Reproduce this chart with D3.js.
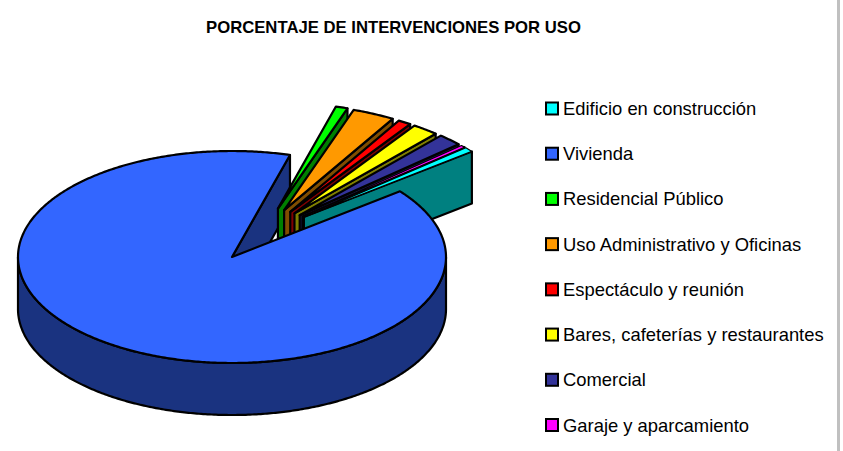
<!DOCTYPE html>
<html>
<head>
<meta charset="utf-8">
<script src="https://cdn.jsdelivr.net/npm/d3@7"></script>
<style>
  html, body { margin: 0; padding: 0; background: #fff; overflow: hidden; }
  text { font-family: "Liberation Sans", Arial, sans-serif; fill: #000; }
</style>
</head>
<body>
<svg id="chart" width="843" height="451"></svg>
<script>
const categories = ['Edificio en construcción', 'Vivienda', 'Residencial Público',
  'Uso Administrativo y Oficinas', 'Espectáculo y reunión',
  'Bares, cafeterías y restaurantes', 'Comercial', 'Garaje y aparcamiento'];
// percentages
const values = [0.7, 90, 0.9, 3.2, 1, 2, 1.85, 0.35];
const colors = ['#00ffff', '#3366ff', '#00ff00', '#ff9900', '#ff0000', '#ffff00', '#333399', '#ff00ff'];

const cx = 232, cy = 257, rx = 214, ry = 106, depth = 52, explode = 108;
const firstAngle = 49.2 * Math.PI / 180;
// exploded slices spread out less than their own bisectors would
const fanAngle = 33 * Math.PI / 180, fanSpread = 0.5;

const svg = d3.select('#chart');

svg.append('rect')
  .attr('x', 837).attr('y', 0).attr('width', 3).attr('height', 451)
  .attr('fill', '#c0c0c0');

svg.append('text')
  .attr('x', 393.5).attr('y', 33)
  .attr('text-anchor', 'middle')
  .attr('font-size', 16.7)
  .attr('font-weight', 'bold')
  .text('PORCENTAJE DE INTERVENCIONES POR USO');

const arcs = d3.pie().value(d => d).sort(null)
  .startAngle(firstAngle).endAngle(firstAngle + 2 * Math.PI)(values);

const pt = (o, t) => [o[0] + rx * Math.sin(t), o[1] - ry * Math.cos(t)];
const down = p => [p[0], p[1] + depth];
const line = d3.line();
const arcPts = (o, a, b) => {
  const n = Math.max(2, Math.ceil(Math.abs(b - a) / 0.01));
  return d3.range(n + 1).map(i => pt(o, a + (b - a) * i / n));
};
const dark = c => { const r = d3.rgb(c); return d3.rgb(r.r / 2, r.g / 2, r.b / 2).formatHex(); };

const shape = (pts, fill, w = 2.2) => svg.append('path')
  .attr('d', line(pts) + 'Z')
  .attr('fill', fill)
  .attr('stroke', '#000')
  .attr('stroke-width', w)
  .attr('stroke-linejoin', 'round');

// big slice: outer wall and end wall go under everything
const big = arcs[1], center = [cx, cy];
const wall = arcPts(center, Math.PI / 2, 3 * Math.PI / 2);
shape(wall.concat(wall.slice().reverse().map(down)), dark(colors[1]));
shape([center, pt(center, big.endAngle), down(pt(center, big.endAngle)), down(center)], dark(colors[1]));

// exploded slices, in order around the pie, the first one goes last
arcs.slice(2).concat(arcs[0]).forEach(d => {
  const mid = (d.startAngle + d.endAngle) / 2 - 2 * Math.PI * (d.index > 1 ? 1 : 0);
  const dir = fanAngle + fanSpread * (mid - fanAngle);
  const o = [cx + explode * Math.sin(dir), cy - explode * (ry / rx) * Math.cos(dir)];
  const color = colors[d.index];
  const end = pt(o, d.endAngle);
  shape([o, end, down(end), down(o)], dark(color));
  // thin slices need a thinner outline or their colour disappears
  shape([o].concat(arcPts(o, d.startAngle, d.endAngle)), color, d.value < 0.8 ? 1.2 : 2.2);
});

shape([center].concat(arcPts(center, big.startAngle, big.endAngle)), colors[1]);

// legend
const legendY = d3.scalePoint().domain(categories).range([108.5, 425]);
const legend = svg.selectAll('g.legend').data(categories).join('g')
  .attr('class', 'legend')
  .attr('transform', d => `translate(546,${legendY(d)})`);
legend.append('rect')
  .attr('x', 0).attr('y', -6).attr('width', 12).attr('height', 12)
  .attr('fill', (d, i) => colors[i])
  .attr('stroke', '#000')
  .attr('stroke-width', 2);
legend.append('text')
  .attr('x', 17).attr('y', 6.5)
  .attr('font-size', 18.4)
  .text(d => d);
</script>
</body>
</html>
